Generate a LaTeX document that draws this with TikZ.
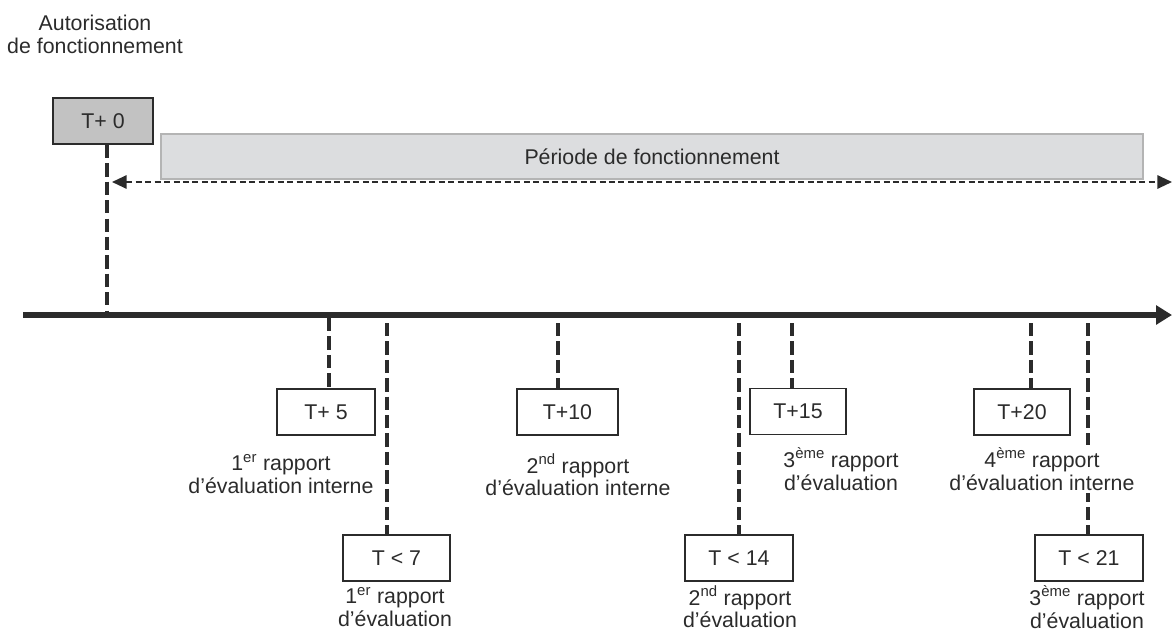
\documentclass[tikz,border=0pt]{standalone}
\usepackage{fontspec}
\setmainfont{Liberation Sans}
\usetikzlibrary{arrows.meta}
\definecolor{ink}{HTML}{2B2B2B}
\definecolor{bandfill}{HTML}{DCDDDF}
\definecolor{bandline}{HTML}{B4B4B4}
\begin{document}
\begin{tikzpicture}[x=0.75pt,y=-0.75pt,
  every node/.style={font=\fontsize{16}{17.2}\selectfont,text=ink},
  tbox/.style={draw=ink,line width=1.4pt,minimum height=34.5pt,inner sep=0pt},
  lbl/.style={align=center,inner sep=0pt},
  tick/.style={draw=ink,line width=2.4pt,dash pattern=on 10pt off 3.8pt},
  axis/.style={draw=ink,line width=4.2pt,-{Triangle[length=12pt,width=14pt]}},
  period/.style={draw=ink,line width=1.5pt,dash pattern=on 4.5pt off 2.6pt,
     {Triangle[length=11pt,width=10pt]}-{Triangle[length=11pt,width=10pt]}}]
\useasboundingbox (0,0) rectangle (1172,632);

% title
\node[lbl] (auth) at (95,34) {Autorisation\\de fonctionnement};

% T+0
\node[tbox,fill=black!24,minimum width=75pt] (b0) at (103,121) {T+ 0};

% operating period band
\node[draw=bandline,line width=1.3pt,fill=bandfill,minimum width=736.5pt,minimum height=34pt,inner sep=0pt] (band) at (652,156.5) {P\'eriode de fonctionnement};

% main axis
\coordinate (axs) at (23,315);
\coordinate (axe) at (1172,315);
\draw[axis] (axs) -- (axe);

% period arrow
\coordinate (pl) at (112,182);
\coordinate (pr) at (1172,182);
\draw[period] (pl) -- (pr);

% axis points
\coordinate (t0) at (107,318);
\coordinate (t5) at (329,318);
\coordinate (t7) at (387,323);
\coordinate (t10) at (558,323);
\coordinate (t14) at (739,323);
\coordinate (t15) at (792,323);
\coordinate (t20) at (1031,323);
\coordinate (t21) at (1088,323);

% boxes
\node[tbox,minimum width=73.5pt] (b5) at (326,412) {T+ 5};
\node[tbox,minimum width=80.5pt] (b7) at (396.5,558) {T < 7};
\node[tbox,minimum width=75.5pt] (b10) at (567.5,412) {T+10};
\node[tbox,minimum width=81pt] (b14) at (739,558) {T < 14};
\node[tbox,minimum width=72pt] (b15) at (798,411.5) {T+15};
\node[tbox,minimum width=72pt] (b20) at (1022,412) {T+20};
\node[tbox,minimum width=81.5pt] (b21) at (1089,558) {T < 21};

% ticks
\draw[tick] (b0.south -| t0) -- (t0);
\draw[tick] (t5) -- (t5 |- b5.north);
\draw[tick] (t7) -- (t7 |- b7.north);
\draw[tick] (t10) -- (t10 |- b10.north);
\draw[tick] (t14) -- (t14 |- b14.north);
\draw[tick] (t15) -- (t15 |- b15.north);
\draw[tick] (t20) -- (t20 |- b20.north);
\draw[tick] (t21) -- (t21 |- b21.north);

% labels
\node[lbl] (l5) at (281,474) {1\textsuperscript{er} rapport\\d'\'evaluation interne};
\node[lbl] (l10) at (578,475) {2\textsuperscript{nd} rapport\\d'\'evaluation interne};
\node[lbl] (l15) at (841,469) {3\textsuperscript{\`eme} rapport\\d'\'evaluation};
\node[lbl,fill=white,inner sep=2pt] (l20) at (1042,469) {4\textsuperscript{\`eme} rapport\\d'\'evaluation interne};
\node[lbl] (l7) at (395,607) {1\textsuperscript{er} rapport\\d'\'evaluation};
\node[lbl] (l14) at (740,607) {2\textsuperscript{nd} rapport\\d'\'evaluation};
\node[lbl] (l21) at (1087,607) {3\textsuperscript{\`eme} rapport\\d'\'evaluation};
\end{tikzpicture}
\end{document}
